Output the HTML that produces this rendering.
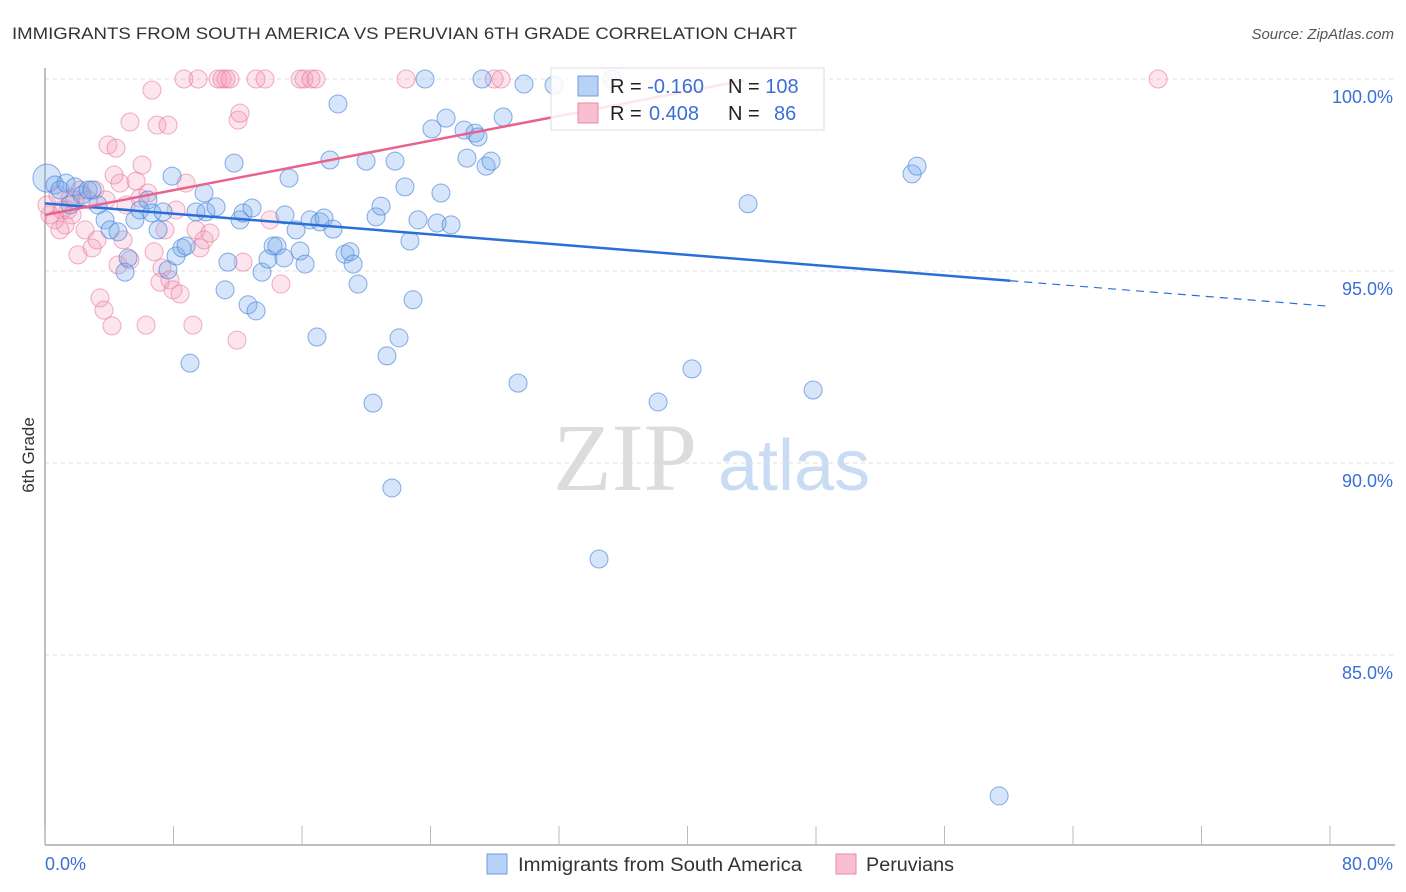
<!DOCTYPE html>
<html><head><meta charset="utf-8"><style>
body{margin:0;background:#fff;font-family:"Liberation Sans",sans-serif;}
svg{display:block}
</style></head><body>
<svg id="chart" width="1406" height="892" viewBox="0 0 1406 892">
<text x="12" y="39" font-size="17" fill="#333" textLength="785" lengthAdjust="spacingAndGlyphs">IMMIGRANTS FROM SOUTH AMERICA VS PERUVIAN 6TH GRADE CORRELATION CHART</text>
<text x="1394" y="39" font-size="15" fill="#555" font-style="italic" text-anchor="end">Source: ZipAtlas.com</text>
<g>
<text x="553" y="490" font-size="96" font-family="Liberation Serif,serif" fill="#dcdcdc">ZIP</text>
<text x="718" y="490" font-size="72" fill="#c9dcf3">atlas</text>
</g>
<g id="grid"></g>
<g id="axes"></g>
<g id="pts"></g>
<g id="trends"></g>
<text transform="translate(34,455) rotate(-90)" font-size="17" fill="#333" text-anchor="middle">6th Grade</text>
<g>
<rect x="551" y="68" width="273" height="62" fill="#fff" fill-opacity="0.85" stroke="#ddd"/>
<rect x="578" y="76" width="20" height="20" fill="#b7d2f5" stroke="#6d9be0"/>
<rect x="578" y="103" width="20" height="20" fill="#f7bfd0" stroke="#e88aa8"/>
<text x="610" y="93" font-size="20" fill="#222">R = <tspan fill="#3a6fd6">-0.160</tspan></text>
<text x="728" y="93" font-size="20" fill="#222">N = <tspan fill="#3a6fd6">108</tspan></text>
<text x="610" y="120" font-size="20" fill="#222">R = <tspan fill="#3a6fd6" x="649">0.408</tspan></text>
<text x="728" y="120" font-size="20" fill="#222">N = <tspan fill="#3a6fd6" x="774">86</tspan></text>
</g>
<g>
<rect x="487" y="854" width="20" height="20" fill="#b7d2f5" stroke="#6d9be0"/>
<text x="518" y="871" font-size="19" fill="#333" textLength="284" lengthAdjust="spacingAndGlyphs">Immigrants from South America</text>
<rect x="836" y="854" width="20" height="20" fill="#f7bfd0" stroke="#e88aa8"/>
<text x="866" y="871" font-size="19" fill="#333" textLength="88" lengthAdjust="spacingAndGlyphs">Peruvians</text>
</g>
</svg>
<script>
const yTicks=[100,95,90,85];
const yTickLabels=["100.0%","95.0%","90.0%","85.0%"];
const xTicks=[0,8,16,24,32,40,48,56,64,72,80];
const xTickLabels=["0.0%","80.0%"];
const blueX=[0.12,0.62,0.93,1.31,1.56,1.87,2.30,2.68,2.93,3.30,3.74,4.05,4.55,4.98,5.17,5.60,5.91,6.41,6.66,7.04,7.35,7.66,7.91,8.16,8.53,8.78,9.03,9.40,9.90,10.02,10.65,11.21,11.39,11.77,12.14,12.33,12.64,12.89,13.14,13.51,13.88,14.20,14.44,14.88,15.19,14.94,15.63,15.88,16.19,16.50,16.93,17.12,17.37,17.74,17.93,18.24,18.68,18.99,19.18,19.49,19.99,20.42,20.61,20.92,21.29,21.60,21.79,22.04,22.41,22.72,22.91,23.22,23.66,24.09,24.41,24.65,24.97,25.28,26.09,26.27,26.77,26.96,27.46,27.77,27.21,28.52,29.45,29.82,31.69,34.49,38.17,40.28,43.77,47.82,53.98,54.29,59.40,35.30];
const blueY=[97.42,97.24,97.11,97.29,96.72,97.19,96.98,97.11,97.11,96.72,96.33,96.07,96.02,94.97,95.34,96.33,96.59,96.85,96.51,96.07,96.54,95.03,97.47,95.39,95.60,95.65,92.60,96.54,97.03,96.54,96.67,94.51,95.23,97.81,96.33,96.51,94.12,96.64,93.96,94.97,95.31,95.65,95.65,95.34,97.42,96.46,96.07,95.52,95.18,96.33,93.28,96.28,96.38,97.89,96.09,99.35,95.44,95.50,95.18,94.66,97.86,91.56,96.41,96.69,92.79,89.35,97.86,93.26,97.19,95.78,94.25,96.33,100,98.70,96.25,97.03,98.98,96.20,98.67,97.94,98.59,98.49,97.73,97.86,100,99.01,92.08,99.87,99.84,87.50,91.59,92.45,96.75,91.90,97.53,97.73,81.33,100];
const pinkX=[0.12,0.31,0.62,0.81,1.06,1.25,1.43,1.68,1.87,2.05,2.18,2.49,2.68,2.93,3.11,3.24,3.42,3.67,3.80,3.92,4.17,4.30,4.42,4.55,4.67,4.86,5.04,5.29,5.29,5.67,5.91,6.04,6.29,6.41,6.66,6.79,6.97,7.16,7.28,7.47,7.66,7.78,7.97,8.16,8.41,8.65,8.78,9.21,9.40,9.53,9.65,9.90,10.27,10.77,11.02,11.27,11.52,11.95,12.02,12.14,12.33,13.14,13.70,14.01,14.69,15.88,16.13,16.56,16.87,22.48,27.96,28.39,69.30,1.56,0.93];
const pinkY=[96.72,96.46,96.33,96.98,96.59,96.20,96.59,96.46,96.85,95.42,97.11,96.07,96.85,95.60,97.11,95.81,94.30,93.98,96.85,98.28,93.57,97.50,98.20,95.16,97.29,95.81,96.72,98.88,95.29,97.34,96.90,97.76,93.59,97.03,99.71,95.50,98.80,94.71,95.08,96.07,98.80,94.77,94.51,96.59,94.40,100,97.29,93.59,96.07,100,95.60,95.81,95.99,100,100,100,100,93.20,98.93,99.11,95.23,100,100,96.33,94.66,100,100,100,100,100,100,100,100,96.90,96.07];
const blueTrend=[96.76,-0.0335];
const pinkTrend=[96.46,0.0805];
const blueSolidEnd=60.1, pinkEnd=43.5;

const NS="http://www.w3.org/2000/svg";
const X0=45,X1=1330,Y100=79,PX_PER=38.4;
const sx=v=>X0+(v/80)*(X1-X0);
const sy=v=>Y100+(100-v)*PX_PER;
function mk(tag,attrs,parent){const e=document.createElementNS(NS,tag);for(const k in attrs)e.setAttribute(k,attrs[k]);parent.appendChild(e);return e;}
const grid=document.getElementById('grid'),axes=document.getElementById('axes'),pts=document.getElementById('pts'),tr=document.getElementById('trends');
yTicks.forEach((t,i)=>{
 const l=mk('line',{x1:X0,x2:1395,y1:sy(t),y2:sy(t),stroke:'#ddd','stroke-dasharray':'4,4'},grid);
 
 
 const tx=mk('text',{x:1393,y:sy(t)+24,'font-size':18,fill:'#3a6fd6','text-anchor':'end'},axes);
 tx.textContent=yTickLabels[i];
 
 
});
const ya=mk('line',{x1:X0,x2:X0,y1:68,y2:845,stroke:'#aaa','stroke-width':1.5},axes);


const xa=mk('line',{x1:X0,x2:1395,y1:845,y2:845,stroke:'#aaa','stroke-width':1.5},axes);


xTicks.forEach(t=>{
 const l=mk('line',{x1:sx(t),x2:sx(t),y1:826,y2:845,stroke:'#bbb'},axes);
 
 
});
const xl0=mk('text',{x:45,y:870,'font-size':18,fill:'#3a6fd6'},axes);
xl0.textContent=xTickLabels[0];


const xl1=mk('text',{x:1393,y:870,'font-size':18,fill:'#3a6fd6','text-anchor':'end'},axes);
xl1.textContent=xTickLabels[1];


function dots(xs,ys,fill,stroke,name){
 xs.forEach((x,i)=>{
  const c=mk('circle',{cx:sx(x),cy:sy(ys[i]),r:(i===0&&name==='blue-point')?14:9,fill:fill,stroke:stroke,'stroke-width':1},pts);
  
  
 });
}
dots(pinkX,pinkY,'rgba(242,150,180,0.25)','rgba(232,120,155,0.6)','pink-point');
dots(blueX,blueY,'rgba(120,170,235,0.3)','rgba(70,130,220,0.65)','blue-point');
const bf=x=>blueTrend[0]+blueTrend[1]*x, pf=x=>pinkTrend[0]+pinkTrend[1]*x;
const b1=mk('line',{x1:sx(0),y1:sy(bf(0)),x2:sx(blueSolidEnd),y2:sy(bf(blueSolidEnd)),stroke:'#2a6fd8','stroke-width':2.5},tr);


const b2=mk('line',{x1:sx(blueSolidEnd),y1:sy(bf(blueSolidEnd)),x2:sx(80),y2:sy(bf(80)),stroke:'#2a6fd8','stroke-width':1.2,'stroke-dasharray':'8,6'},tr);


const p1=mk('line',{x1:sx(0),y1:sy(pf(0)),x2:sx(pinkEnd),y2:sy(pf(pinkEnd)),stroke:'#e8628e','stroke-width':2.5},tr);


</script>
</body></html>
